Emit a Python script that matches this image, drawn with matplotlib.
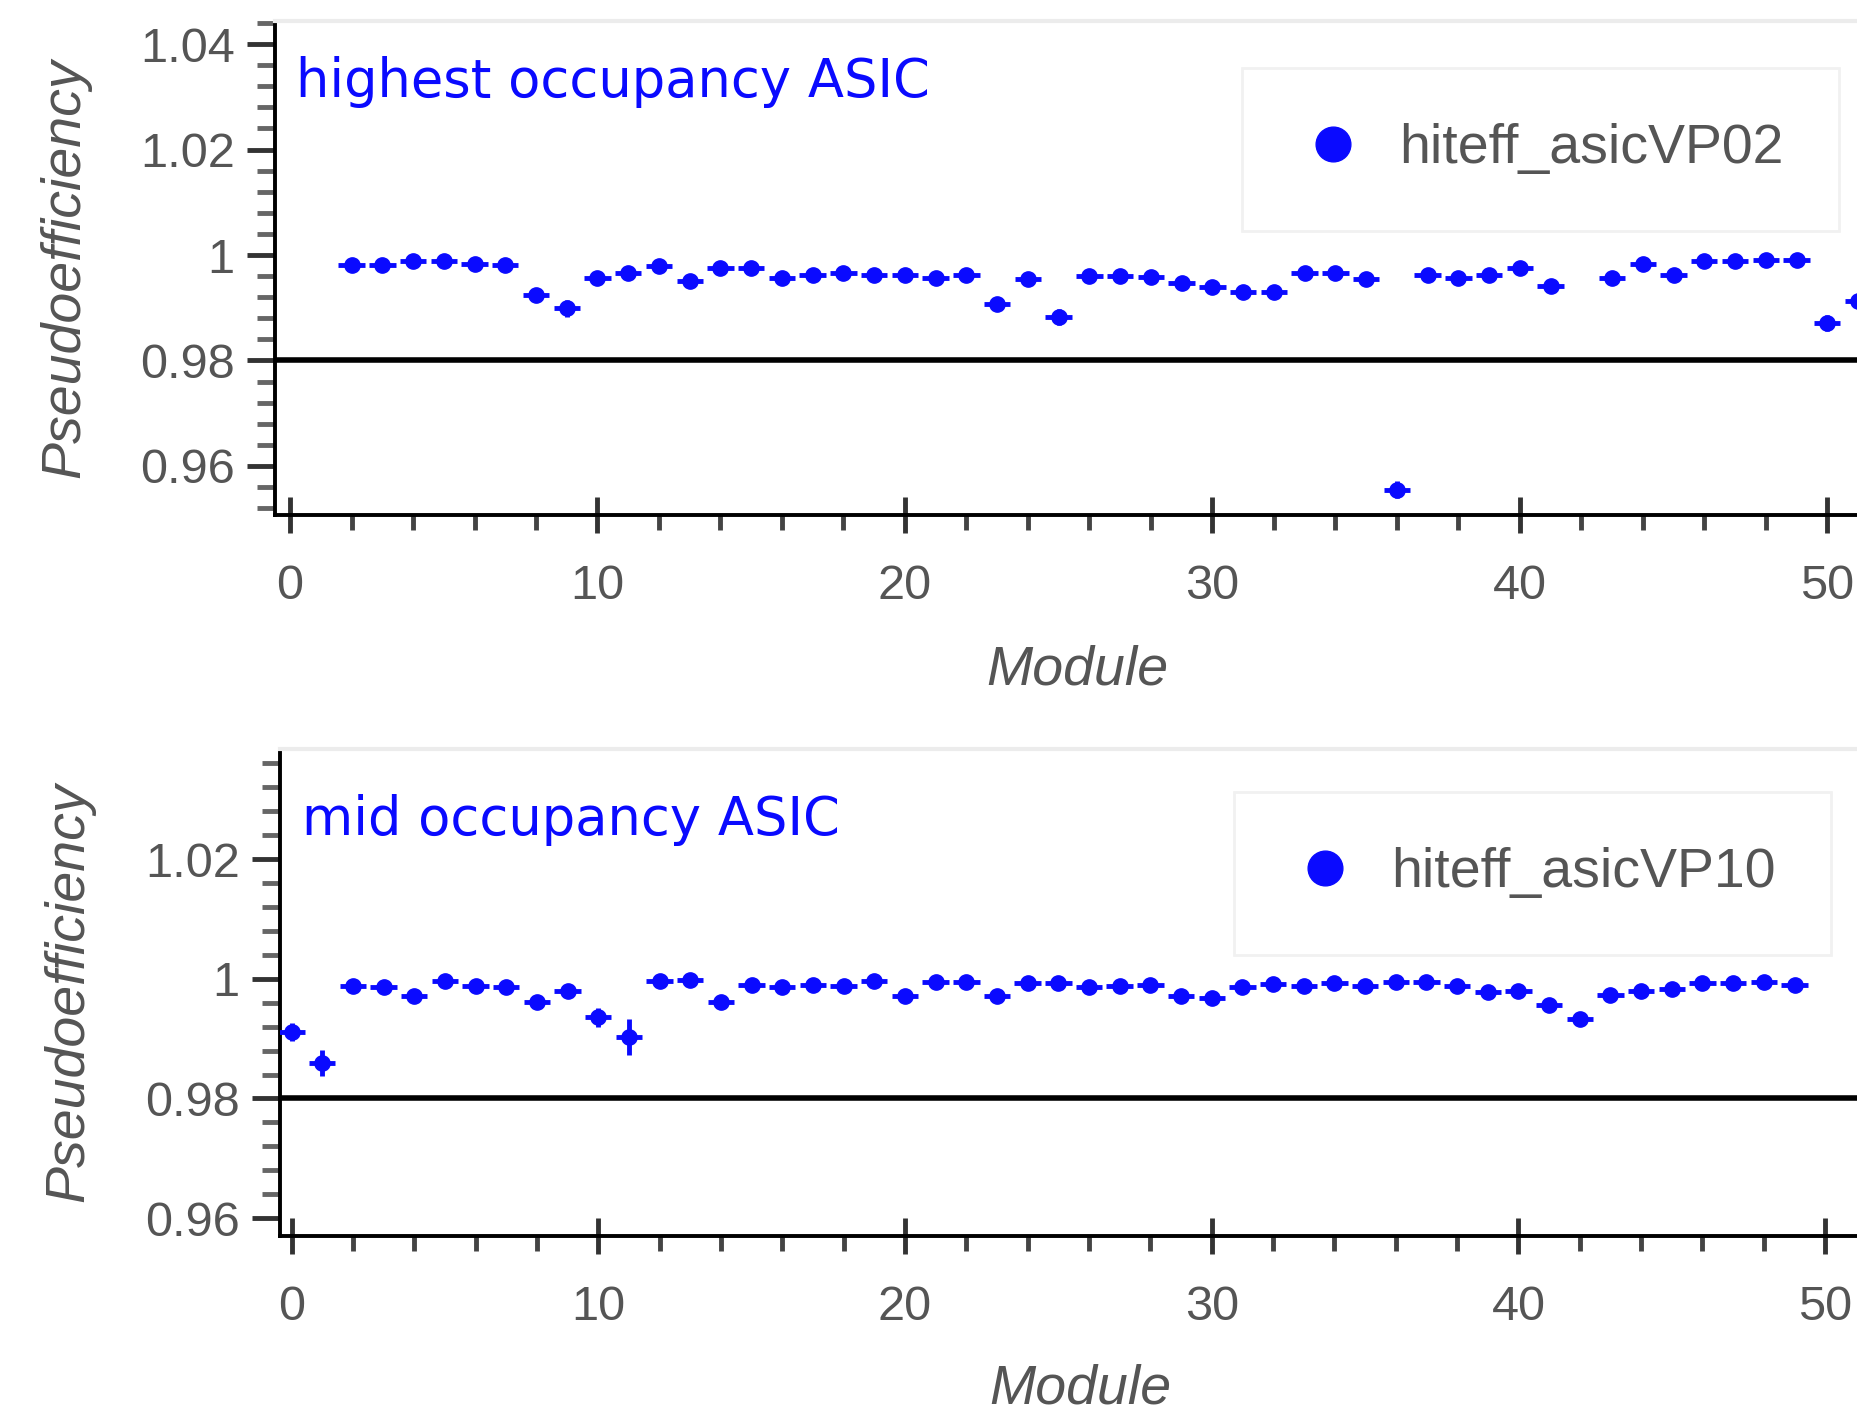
import numpy as np
import matplotlib.pyplot as plt
from matplotlib.lines import Line2D
from matplotlib.ticker import MultipleLocator, FuncFormatter

# Data
modules_vp02 = [2, 3, 4, 5, 6, 7, 8, 9, 10, 11, 12, 13, 14, 15, 16, 17, 18, 19, 20, 21,
                22, 23, 24, 25, 26, 27, 28, 29, 30, 31, 32, 33, 34, 35, 36, 37, 38, 39, 40, 41,
                43, 44, 45, 46, 47, 48, 49, 50, 51]
eff_vp02 = [0.9981, 0.9981, 0.9989, 0.9989, 0.9983, 0.9981, 0.9925, 0.9899, 0.9956, 0.9965,
            0.9979, 0.9950, 0.9976, 0.9976, 0.9956, 0.9963, 0.9965, 0.9963, 0.9963, 0.9956,
            0.9963, 0.9908, 0.9955, 0.9883, 0.9961, 0.9961, 0.9959, 0.9947, 0.9939, 0.9930,
            0.9930, 0.9965, 0.9965, 0.9955, 0.9555, 0.9963, 0.9956, 0.9963, 0.9975, 0.9942,
            0.9956, 0.9983, 0.9963, 0.9989, 0.9989, 0.9990, 0.9990, 0.9871, 0.9913]
err_vp02 = [0.0012] * len(modules_vp02)
err_vp02[modules_vp02.index(9)] = 0.0016
err_vp02[modules_vp02.index(25)] = 0.0015
err_vp02[modules_vp02.index(36)] = 0.0016
err_vp02[modules_vp02.index(50)] = 0.0015

modules_vp10 = list(range(0, 50))
eff_vp10 = [0.9911, 0.9859, 0.9988, 0.9986, 0.9971, 0.9996, 0.9988, 0.9987, 0.9961, 0.9980,
            0.9936, 0.9902, 0.9997, 0.9998, 0.9961, 0.9990, 0.9986, 0.9990, 0.9988, 0.9997,
            0.9972, 0.9994, 0.9994, 0.9971, 0.9993, 0.9993, 0.9987, 0.9988, 0.9990, 0.9971,
            0.9968, 0.9987, 0.9991, 0.9988, 0.9993, 0.9988, 0.9994, 0.9994, 0.9988, 0.9978,
            0.9980, 0.9957, 0.9933, 0.9973, 0.9980, 0.9983, 0.9993, 0.9993, 0.9994, 0.9989]
err_vp10 = [0.0011] * len(modules_vp10)
err_vp10[0] = 0.0015
err_vp10[1] = 0.0022
err_vp10[10] = 0.0016
err_vp10[11] = 0.0030

threshold = 0.98

panels = [
    dict(x=modules_vp02, y=eff_vp02, e=err_vp02, label='hiteff_asicVP02',
         note='highest occupancy ASIC',
         rect=[0.148, 0.6353, 0.852, 0.3499], xlim=(-0.49, 51.0), ylim=(0.9507, 1.0444),
         note_xy=(0.013, 0.846), leg_xy=(0.988, 0.905), xlab_y=-0.262, ylab_x=-0.116),
    dict(x=modules_vp10, y=eff_vp10, e=err_vp10, label='hiteff_asicVP10',
         note='mid occupancy ASIC',
         rect=[0.1507, 0.1246, 0.8493, 0.3449], xlim=(-0.375, 51.07), ylim=(0.957, 1.0384),
         note_xy=(0.014, 0.823), leg_xy=(0.983, 0.912), xlab_y=-0.262, ylab_x=-0.117),
]

blue = '#0a0aff'
grey = '#555555'

fig = plt.figure(figsize=(18.58, 14.12), dpi=100)

def fmt_y(v, pos):
    return '1' if abs(v - 1) < 1e-9 else '%.2f' % v

for p in panels:
    ax = fig.add_axes(p['rect'])
    ax.errorbar(p['x'], p['y'], xerr=0.43, yerr=p['e'], fmt='o', color=blue,
                ms=11, elinewidth=3.5, capsize=0, zorder=3)
    ax.axhline(threshold, color='black', lw=4, zorder=2)
    ax.set_xlim(*p['xlim'])
    ax.set_ylim(*p['ylim'])

    for s in ['left', 'bottom']:
        ax.spines[s].set_linewidth(2.8)
        ax.spines[s].set_color('black')
    ax.spines['right'].set_visible(False)
    ax.spines['top'].set_color('#ececec')
    ax.spines['top'].set_linewidth(3)

    ax.xaxis.set_major_locator(MultipleLocator(10))
    ax.xaxis.set_minor_locator(MultipleLocator(2))
    ax.yaxis.set_major_locator(MultipleLocator(0.02))
    ax.yaxis.set_minor_locator(MultipleLocator(0.004))
    ax.yaxis.set_major_formatter(FuncFormatter(fmt_y))

    ax.tick_params(axis='x', which='major', direction='inout', length=26, width=3.5,
                   color='#333333', labelsize=35, labelcolor=grey, pad=22)
    ax.tick_params(axis='x', which='minor', direction='out', length=11, width=3.5,
                   color='#444444')
    ax.tick_params(axis='y', which='major', direction='out', length=20, width=3.5,
                   color='#333333', labelsize=35, labelcolor=grey, pad=9)
    ax.tick_params(axis='y', which='minor', direction='out', length=13, width=3.5,
                   color='#666666')
    for lab in ax.get_xticklabels() + ax.get_yticklabels():
        lab.set_family('Liberation Sans')

    ax.set_xlabel('Module', fontsize=40, style='italic', color=grey, family='Liberation Sans')
    ax.set_ylabel('Pseudoefficiency', fontsize=40, style='italic', color=grey,
                  family='Liberation Sans')
    ax.xaxis.set_label_coords(0.507, p['xlab_y'])
    ax.yaxis.set_label_coords(p['ylab_x'], 0.5)

    ax.text(p['note_xy'][0], p['note_xy'][1], p['note'], transform=ax.transAxes,
            fontsize=38, color=blue, family='DejaVu Sans', va='baseline', ha='left')

    handle = Line2D([], [], ls='none', marker='o', ms=25, color=blue)
    leg = ax.legend([handle], [p['label']], loc='upper right', bbox_to_anchor=p['leg_xy'],
                    borderaxespad=0, frameon=True, fancybox=False,
                    borderpad=1.0, handlelength=1.28, handletextpad=0.55,
                    prop={'family': 'Liberation Sans', 'size': 40})
    leg.get_frame().set_edgecolor('#eeeeee')
    leg.get_frame().set_linewidth(2)
    for t in leg.get_texts():
        t.set_color(grey)

fig.savefig('out.png', dpi=100)
